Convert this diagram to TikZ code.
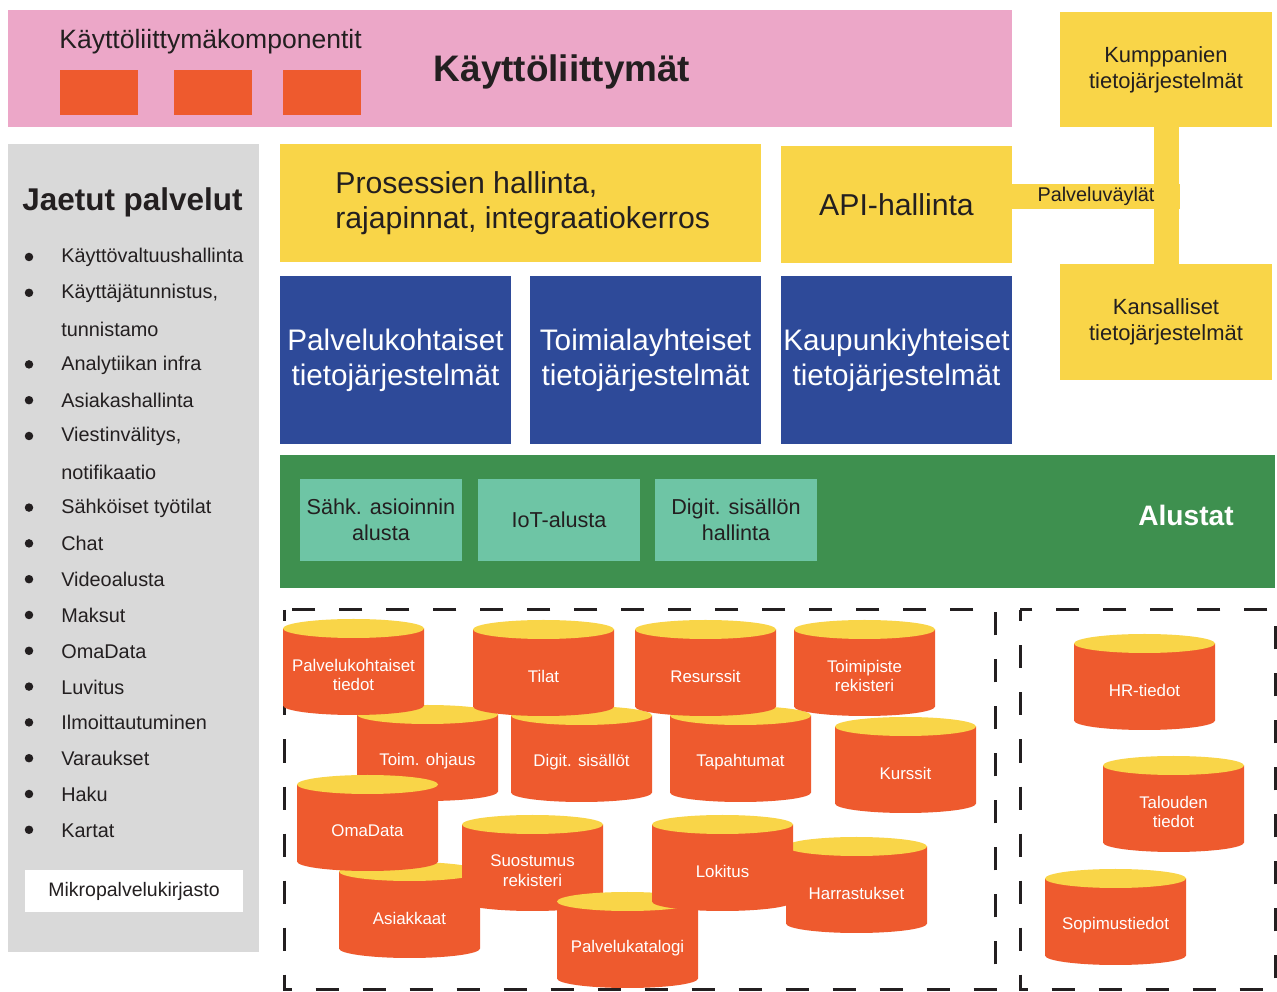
\documentclass[tikz,border=0pt]{standalone}
\usepackage{fontspec}
\setmainfont{Liberation Sans}
\usetikzlibrary{positioning}

\definecolor{uipink}{HTML}{ECA7C8}
\definecolor{uiorange}{HTML}{EE5A2E}
\definecolor{layeryellow}{HTML}{F9D548}
\definecolor{sharedgray}{HTML}{D9D9D9}
\definecolor{sysblue}{HTML}{2E4A99}
\definecolor{platgreen}{HTML}{3E904F}
\definecolor{platlight}{HTML}{6EC5A5}
\definecolor{inkdark}{HTML}{231F20}

% data store cylinder: name, left x, top y, label
\newcommand{\dbcyl}[4]{%
  \fill[uiorange] (#2,#3+9.5) -- (#2,#3+86.5)
    arc[start angle=180, end angle=360, x radius=14.1mm, y radius=1.9mm]
    -- (#2+141,#3+9.5) -- cycle;
  \fill[layeryellow] (#2+70.5,#3+9.5) ellipse [x radius=14.1mm, y radius=1.9mm];
  \node[dblabel] (#1) at (#2+70.5,#3+56) {#4};
}

\begin{document}
\begin{tikzpicture}[x=0.2mm, y=-0.2mm,
    every node/.style={text=inkdark},
    box/.style={inner sep=0pt, outer sep=0pt, align=center},
    sz/.style 2 args={minimum width=#1*0.2mm, minimum height=#2*0.2mm},
    dblabel/.style={text=white, align=center, font=\fontsize{9.6}{11.3}\selectfont},
    bullet/.style={circle, fill=inkdark, inner sep=0pt, minimum size=1.7mm},
    storebox/.style={draw=inkdark, line width=0.6mm, dash pattern=on 4.6mm off 4.8mm, dash phase=2.3mm},
    bus/.style={layeryellow, line width=5mm}]
  \useasboundingbox (0,0) rectangle (1277,992);

  % User interfaces
  \node[box, sz={1004}{117}, fill=uipink] (ui) at (510,68.5) {};
  \node[anchor=west, inner sep=0pt, font=\fontsize{15.1}{18}\selectfont] (uicomp) at (59,42) {Käyttöliittymäkomponentit};
  \foreach \x in {60,174,283}
    \fill[uiorange] (\x,70) rectangle ++(78,45);
  \node[font=\bfseries\fontsize{21}{24}\selectfont] (uititle) at (562,72) {Käyttöliittymät};

  % External systems and the service bus
  \node[box, sz={212}{115}, fill=layeryellow, font=\fontsize{12.5}{14.7}\selectfont] (partner) at (1166,69.5) {Kumppanien\\tietojärjestelmät};
  \node[box, sz={212}{116}, fill=layeryellow, font=\fontsize{12.5}{14.7}\selectfont] (national) at (1166,322) {Kansalliset\\tietojärjestelmät};
  \draw[bus] (partner.south) -- (national.north);
  \node[box, sz={168}{25}, fill=layeryellow, font=\fontsize{11.3}{13}\selectfont] (esb) at (1096,196.5) {Palveluväylät};

  % Integration layer
  \node[box, sz={481}{118}, fill=layeryellow] (proc) at (520.5,203) {};
  \node[anchor=west, align=left, inner sep=0pt, font=\fontsize{17.2}{19.8}\selectfont] (proctext) at (335,203.5) {Prosessien hallinta,\\rajapinnat, integraatiokerros};
  \node[box, sz={231}{117}, fill=layeryellow, font=\fontsize{17.2}{20}\selectfont] (api) at (896.5,204.5) {API-hallinta};

  % Information systems
  \foreach \n/\x/\t in {svc/395.5/Palvelukohtaiset, dom/645.5/Toimialayhteiset, city/896.5/Kaupunkiyhteiset}
    \node[box, sz={231}{168}, fill=sysblue, text=white, font=\fontsize{16.9}{19.8}\selectfont] (\n) at (\x,360) {\t\\tietojärjestelmät};

  % Platforms
  \node[box, sz={995}{133}, fill=platgreen] (plat) at (777.5,521.5) {};
  \foreach \n/\x/\t in {eserv/381/{Sähk. asioinnin\\alusta}, iot/559/IoT-alusta, cms/736/{Digit. sisällön\\hallinta}}
    \node[box, sz={162}{82}, fill=platlight, font=\fontsize{12.3}{14.7}\selectfont] (\n) at (\x,520) {\t};
  \node[text=white, font=\bfseries\fontsize{16}{19}\selectfont] (plattitle) at (1186,515) {Alustat};

  % Shared services
  \node[box, sz={251}{808}, fill=sharedgray] (shared) at (133.5,548) {};
  \node[anchor=west, inner sep=0pt, font=\bfseries\fontsize{17.9}{21}\selectfont] (sharedtitle) at (22,202) {Jaetut palvelut};
  \foreach \i/\t in {0/Käyttövaltuushallinta, {1/Käyttäjätunnistus,}, 2/tunnistamo, 3/Analytiikan infra,
                     4/Asiakashallinta, {5/Viestinvälitys,}, 6/notifikaatio, 7/Sähköiset työtilat, 8/Chat,
                     9/Videoalusta, 10/Maksut, 11/OmaData, 12/Luvitus, 13/Ilmoittautuminen, 14/Varaukset,
                     15/Haku, 16/Kartat}
    \node[anchor=west, inner sep=0pt, font=\fontsize{11.3}{13}\selectfont] (item\i) at (61,257.5+35.8*\i) {\t};
  \foreach \i in {0,1,3,4,5,7,8,9,10,11,12,13,14,15,16}
    \node[bullet] (dot\i) at (29,257+35.8*\i) {};
  \node[box, sz={218}{42}, fill=white, font=\fontsize{11.1}{13}\selectfont] (lib) at (134,891) {Mikropalvelukirjasto};

  % Data stores
  \draw[storebox] (284,610) rectangle (995,990);
  \draw[storebox] (1020,610) rectangle (1275,990);
  \foreach \n/\x/\y/\t in {toim/357/705/{Toim. ohjaus}, digi/511/706/{Digit. sisällöt}, tapa/670/706/Tapahtumat,
                           kurs/835/717/Kurssit, palv/283/619/{Palvelukohtaiset\\tiedot}, tila/473/620/Tilat,
                           resu/635/620/Resurssit, toimi/794/620/{Toimipiste\\rekisteri}, asia/339/862/Asiakkaat,
                           oma/297/775/OmaData, suos/462/815/{Suostumus\\rekisteri}, kata/557/892/Palvelukatalogi,
                           harr/786/837/Harrastukset, loki/652/815/Lokitus, hr/1074/634/HR-tiedot,
                           talo/1103/756/{Talouden\\tiedot}, sopi/1045/869/Sopimustiedot}
  {
    \dbcyl{\n}{\x}{\y}{\t}
  }
\end{tikzpicture}
\end{document}
